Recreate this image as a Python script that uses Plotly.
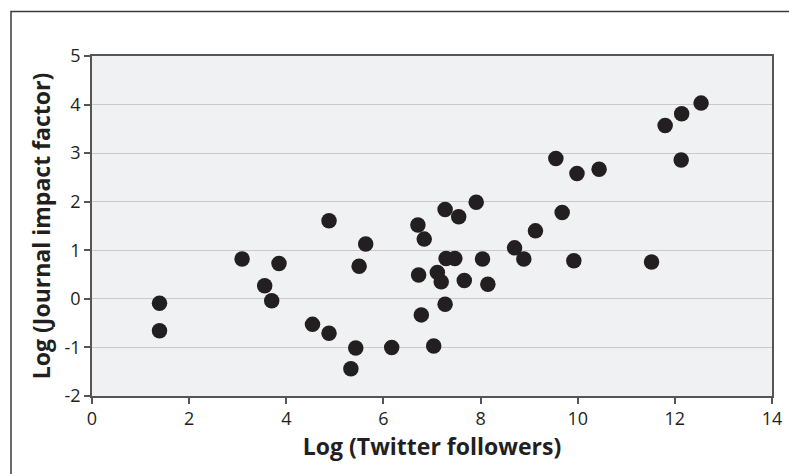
import plotly.graph_objects as go

log_followers = [1.39, 1.39, 3.09, 3.85, 3.555, 3.70, 4.54, 4.88, 5.43, 5.33, 6.17,
                 5.635, 5.50, 4.88, 6.71, 6.84, 7.27, 7.55, 7.91, 8.70, 7.29, 7.47,
                 8.04, 6.725, 7.11, 7.19, 7.665, 8.15, 7.27, 6.78, 7.035, 12.54,
                 12.14, 11.80, 12.13, 9.55, 9.985, 10.44, 9.68, 9.13, 8.89, 9.92, 11.52]
log_impact = [-0.09, -0.655, 0.82, 0.73, 0.27, -0.04, -0.525, -0.71, -1.01, -1.44, -1.0,
              1.13, 0.67, 1.61, 1.52, 1.23, 1.84, 1.69, 1.99, 1.05, 0.83, 0.83,
              0.82, 0.49, 0.545, 0.35, 0.38, 0.30, -0.11, -0.33, -0.97, 4.03,
              3.81, 3.57, 2.86, 2.89, 2.58, 2.67, 1.78, 1.40, 0.82, 0.785, 0.76]
x_ticks = [0, 2, 4, 6, 8, 10, 12, 14]
y_ticks = [-2, -1, 0, 1, 2, 3, 4, 5]
y_tick_labels = ["-2", "-1", "0", "1", "2", "3", "4", "5"]

fig = go.Figure()
fig.add_trace(go.Scatter(
    x=log_followers, y=log_impact, mode="markers",
    marker=dict(size=15.5, color="#231f20", line=dict(width=0)),
    showlegend=False, cliponaxis=False,
))

font_family = "Open Sans, Noto Sans, sans-serif"
fig.update_layout(
    width=789, height=474,
    margin=dict(l=92, r=17, t=56, b=78, autoexpand=False),
    paper_bgcolor="white",
    plot_bgcolor="#f0f1f3",
    font=dict(family=font_family, size=16, color="#231f20"),
    xaxis=dict(
        range=[0, 14], tickvals=x_ticks, showgrid=False, zeroline=False,
        showline=True, linecolor="#555555", linewidth=1.5, mirror=True,
        ticks="outside", ticklen=6, tickcolor="#555555", tickwidth=1.5,
        tickfont=dict(size=18, color="#231f20"), automargin=False,
        title=dict(text="<b>Log (Twitter followers)</b>", font=dict(size=23), standoff=0),
    ),
    yaxis=dict(
        range=[-2, 5], tickvals=y_ticks, ticktext=y_tick_labels,
        showgrid=True, gridcolor="#c9c9cb", gridwidth=1.3,
        zeroline=False,
        showline=True, linecolor="#555555", linewidth=1.5, mirror=True,
        ticks="outside", ticklen=6, tickcolor="#555555", tickwidth=1.5,
        tickfont=dict(size=18, color="#231f20"), automargin=False,
        title=dict(text="<b>Log (Journal impact factor)</b>", font=dict(size=23), standoff=8),
    ),
    shapes=[dict(
        type="rect", xref="paper", yref="paper",
        x0=(11 - 92) / 680, x1=1.5, y0=-1.0, y1=1 + (56 - 11.5) / 340,
        line=dict(color="#3a3a3a", width=1.5), fillcolor="rgba(0,0,0,0)", layer="below",
    )],
)

fig.write_html("out.html", config={"displayModeBar": False},
               post_script="document.body.style.margin='0';document.body.style.overflow='hidden';")
